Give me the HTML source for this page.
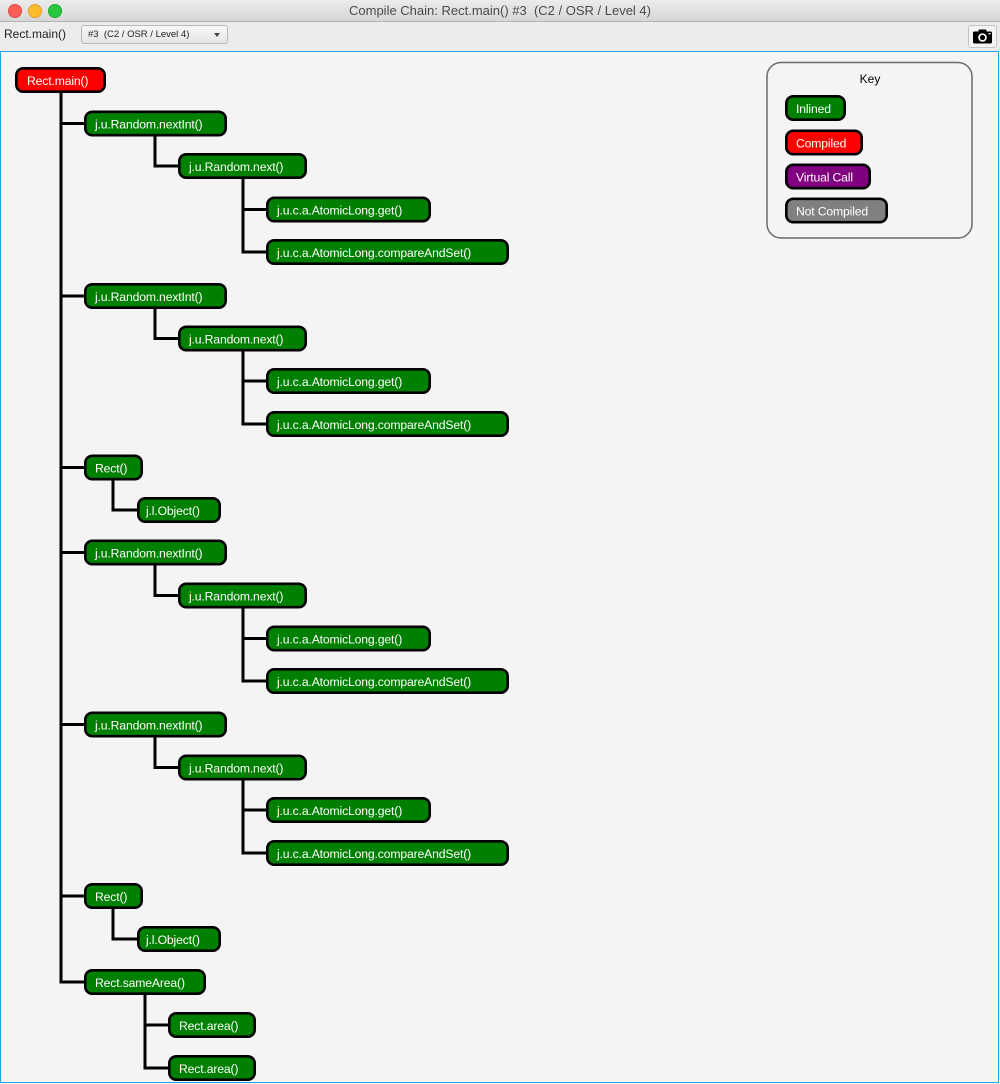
<!DOCTYPE html>
<html><head><meta charset="utf-8">
<style>
html,body{margin:0;padding:0;width:1000px;height:1084px;overflow:hidden;background:#f4f4f4;font-family:"Liberation Sans",Arial,sans-serif;}
#title{position:absolute;left:0;top:0;width:1000px;height:21px;background:linear-gradient(#ececec,#d6d6d6);border-bottom:1px solid #b5b5b5;}
#title .t{position:absolute;left:0;width:1000px;top:3px;text-align:center;font-size:13px;color:#4a4a4a;}
.dot{position:absolute;top:4px;width:12px;height:12px;border-radius:50%;}
#tool{position:absolute;left:0;top:22px;width:1000px;height:29px;background:#ececec;}
#canvas{position:absolute;left:0;top:51px;width:997px;height:1030px;border:1.5px solid #1ea5e4;background:#f4f4f4;}
svg{position:absolute;left:0;top:0;}
</style></head><body>
<div id="title">
  <div class="dot" style="left:8px;background:#fc5f57;border:0.5px solid #de4a42;"></div>
  <div class="dot" style="left:28px;background:#fdbc2e;border:0.5px solid #de9f24;"></div>
  <div class="dot" style="left:48px;background:#29c840;border:0.5px solid #1daa2e;"></div>
  <div class="t">Compile Chain: Rect.main() #3&nbsp; (C2 / OSR / Level 4)</div>
</div>
<div id="tool">
  <div style="position:absolute;left:4px;top:5px;font-size:12px;color:#222;">Rect.main()</div>
  <div style="position:absolute;left:81px;top:3px;width:145px;height:17px;border:1px solid #b9b9b9;border-radius:3px;background:linear-gradient(#f7f7f7,#e6e6e6);">
    <div style="position:absolute;left:6px;top:3px;font-size:9.5px;color:#222;white-space:pre;">#3  (C2 / OSR / Level 4)</div>
    <div style="position:absolute;left:132px;top:7px;width:0;height:0;border-left:3.5px solid transparent;border-right:3.5px solid transparent;border-top:4px solid #444;"></div>
  </div>
  <div style="position:absolute;left:968px;top:3px;width:27px;height:21px;border:1px solid #c4c4c4;border-radius:3px;background:#f4f4f4;">
    <svg width="27" height="21" viewBox="0 0 27 21">
      <rect x="4" y="5.5" width="19" height="12" rx="1.5" fill="#000"/>
      <rect x="9.5" y="3.5" width="8" height="3" rx="1" fill="#000"/>
      <circle cx="13.5" cy="11.5" r="4.3" fill="#fff"/>
      <circle cx="13.5" cy="11.5" r="2.6" fill="#000"/>
      <rect x="19.5" y="7" width="2" height="1.3" fill="#fff"/>
    </svg>
  </div>
</div>
<div id="canvas"></div>
<svg width="1000" height="1084" viewBox="0 0 1000 1084" font-family="Liberation Sans, Arial, sans-serif">
  <g stroke="#000" stroke-width="3" fill="none">
    <line x1="61" y1="92" x2="61" y2="983.5"/>
    <line x1="59.5" y1="123.5" x2="85" y2="123.5"/>
    <line x1="59.5" y1="296" x2="85" y2="296"/>
    <line x1="59.5" y1="467.5" x2="85" y2="467.5"/>
    <line x1="59.5" y1="552.5" x2="85" y2="552.5"/>
    <line x1="59.5" y1="724.5" x2="85" y2="724.5"/>
    <line x1="59.5" y1="896" x2="85" y2="896"/>
    <line x1="59.5" y1="982" x2="85" y2="982"/>
    <polyline points="155,136 155,166 179,166"/>
    <line x1="243" y1="179" x2="243" y2="253.5"/>
    <line x1="241.5" y1="209.5" x2="267" y2="209.5"/>
    <line x1="241.5" y1="252" x2="267" y2="252"/>
    <polyline points="155,308 155,338.5 179,338.5"/>
    <line x1="243" y1="351" x2="243" y2="425.5"/>
    <line x1="241.5" y1="381" x2="267" y2="381"/>
    <line x1="241.5" y1="424" x2="267" y2="424"/>
    <polyline points="113,479 113,510 138,510"/>
    <polyline points="155,564 155,595.5 179,595.5"/>
    <line x1="243" y1="607" x2="243" y2="682.5"/>
    <line x1="241.5" y1="638.5" x2="267" y2="638.5"/>
    <line x1="241.5" y1="681" x2="267" y2="681"/>
    <polyline points="155,736 155,767.5 179,767.5"/>
    <line x1="243" y1="779" x2="243" y2="854.5"/>
    <line x1="241.5" y1="810" x2="267" y2="810"/>
    <line x1="241.5" y1="853" x2="267" y2="853"/>
    <polyline points="113,908 113,939 138,939"/>
    <line x1="145" y1="994" x2="145" y2="1069.5"/>
    <line x1="143.5" y1="1025" x2="169" y2="1025"/>
    <line x1="143.5" y1="1068" x2="169" y2="1068"/>
  </g>

  <g stroke="#000" stroke-width="2.6" font-size="12.2" fill="#fff" letter-spacing="-0.15">
    <rect x="16.3" y="68.3" width="88.4" height="23.4" rx="7" fill="#ff0000"/>
    <text x="27" y="85" stroke="none">Rect.main()</text>

    <rect x="85.3" y="111.8" width="140.4" height="23.4" rx="7" fill="#008000"/>
    <text x="95" y="128.5" stroke="none">j.u.Random.nextInt()</text>
    <rect x="179.3" y="154.3" width="126.4" height="23.4" rx="7" fill="#008000"/>
    <text x="189" y="171" stroke="none">j.u.Random.next()</text>
    <rect x="267.3" y="197.8" width="162.4" height="23.4" rx="7" fill="#008000"/>
    <text x="277" y="214.5" stroke="none">j.u.c.a.AtomicLong.get()</text>
    <rect x="267.3" y="240.3" width="240.4" height="23.4" rx="7" fill="#008000"/>
    <text x="277" y="257" stroke="none">j.u.c.a.AtomicLong.compareAndSet()</text>

    <rect x="85.3" y="284.3" width="140.4" height="23.4" rx="7" fill="#008000"/>
    <text x="95" y="301" stroke="none">j.u.Random.nextInt()</text>
    <rect x="179.3" y="326.8" width="126.4" height="23.4" rx="7" fill="#008000"/>
    <text x="189" y="343.5" stroke="none">j.u.Random.next()</text>
    <rect x="267.3" y="369.3" width="162.4" height="23.4" rx="7" fill="#008000"/>
    <text x="277" y="386" stroke="none">j.u.c.a.AtomicLong.get()</text>
    <rect x="267.3" y="412.3" width="240.4" height="23.4" rx="7" fill="#008000"/>
    <text x="277" y="429" stroke="none">j.u.c.a.AtomicLong.compareAndSet()</text>

    <rect x="85.3" y="455.8" width="56.4" height="23.4" rx="7" fill="#008000"/>
    <text x="95" y="472.5" stroke="none">Rect()</text>
    <rect x="138.3" y="498.3" width="81.4" height="23.4" rx="7" fill="#008000"/>
    <text x="146" y="515" stroke="none">j.l.Object()</text>

    <rect x="85.3" y="540.8" width="140.4" height="23.4" rx="7" fill="#008000"/>
    <text x="95" y="557.5" stroke="none">j.u.Random.nextInt()</text>
    <rect x="179.3" y="583.8" width="126.4" height="23.4" rx="7" fill="#008000"/>
    <text x="189" y="600.5" stroke="none">j.u.Random.next()</text>
    <rect x="267.3" y="626.8" width="162.4" height="23.4" rx="7" fill="#008000"/>
    <text x="277" y="643.5" stroke="none">j.u.c.a.AtomicLong.get()</text>
    <rect x="267.3" y="669.3" width="240.4" height="23.4" rx="7" fill="#008000"/>
    <text x="277" y="686" stroke="none">j.u.c.a.AtomicLong.compareAndSet()</text>

    <rect x="85.3" y="712.8" width="140.4" height="23.4" rx="7" fill="#008000"/>
    <text x="95" y="729.5" stroke="none">j.u.Random.nextInt()</text>
    <rect x="179.3" y="755.8" width="126.4" height="23.4" rx="7" fill="#008000"/>
    <text x="189" y="772.5" stroke="none">j.u.Random.next()</text>
    <rect x="267.3" y="798.3" width="162.4" height="23.4" rx="7" fill="#008000"/>
    <text x="277" y="815" stroke="none">j.u.c.a.AtomicLong.get()</text>
    <rect x="267.3" y="841.3" width="240.4" height="23.4" rx="7" fill="#008000"/>
    <text x="277" y="858" stroke="none">j.u.c.a.AtomicLong.compareAndSet()</text>

    <rect x="85.3" y="884.3" width="56.4" height="23.4" rx="7" fill="#008000"/>
    <text x="95" y="901" stroke="none">Rect()</text>
    <rect x="138.3" y="927.3" width="81.4" height="23.4" rx="7" fill="#008000"/>
    <text x="146" y="944" stroke="none">j.l.Object()</text>

    <rect x="85.3" y="970.3" width="119.4" height="23.4" rx="7" fill="#008000"/>
    <text x="95" y="987" stroke="none">Rect.sameArea()</text>
    <rect x="169.3" y="1013.3" width="85.4" height="23.4" rx="7" fill="#008000"/>
    <text x="179" y="1030" stroke="none">Rect.area()</text>
    <rect x="169.3" y="1056.3" width="85.4" height="23.4" rx="7" fill="#008000"/>
    <text x="179" y="1073" stroke="none">Rect.area()</text>
  </g>

  <rect x="767" y="62.5" width="205" height="175.5" rx="14" fill="#f4f4f4" stroke="#6a6a6a" stroke-width="1.5"/>
  <text x="870" y="83" font-size="12" fill="#000" text-anchor="middle">Key</text>
  <g stroke="#000" stroke-width="2.6" font-size="12.2" fill="#fff" letter-spacing="-0.15">
    <rect x="786.3" y="96.3" width="58.4" height="23.4" rx="7" fill="#008000"/>
    <text x="796" y="113" stroke="none">Inlined</text>
    <rect x="786.3" y="130.8" width="75.4" height="23.4" rx="7" fill="#ff0000"/>
    <text x="796" y="147.5" stroke="none">Compiled</text>
    <rect x="786.3" y="164.8" width="83.4" height="23.4" rx="7" fill="#800080"/>
    <text x="796" y="181.5" stroke="none">Virtual Call</text>
    <rect x="786.3" y="198.8" width="100.4" height="23.4" rx="7" fill="#808080"/>
    <text x="796" y="215.5" stroke="none">Not Compiled</text>
  </g>
</svg>
</body></html>
